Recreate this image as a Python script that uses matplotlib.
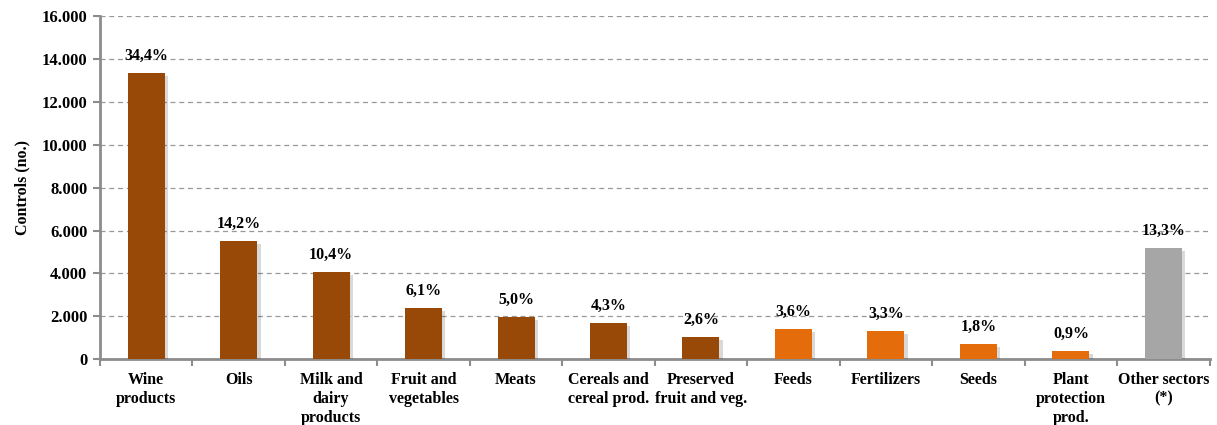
import numpy as np
import matplotlib
matplotlib.use('Agg')
import matplotlib.pyplot as plt
import matplotlib.patheffects as pe
from matplotlib.ticker import FuncFormatter

categories = ['Wine\nproducts', 'Oils', 'Milk and\ndairy\nproducts', 'Fruit and\nvegetables',
              'Meats', 'Cereals and\ncereal prod.', 'Preserved\nfruit and veg.', 'Feeds',
              'Fertilizers', 'Seeds', 'Plant\nprotection\nprod.', 'Other sectors\n(*)']
controls = [13340, 5500, 4050, 2370, 1950, 1670, 1010, 1400, 1300, 700, 360, 5170]
shares = ['34,4%', '14,2%', '10,4%', '6,1%', '5,0%', '4,3%', '2,6%', '3,6%', '3,3%', '1,8%', '0,9%', '13,3%']
groups = ['food'] * 7 + ['input'] * 4 + ['other']

colors = {'food': '#984807', 'input': '#E46C0A', 'other': '#A6A6A6'}
axis_grey = '#8C8C8C'

plt.rcParams['font.family'] = ['Liberation Serif', 'DejaVu Serif']

fig = plt.figure(figsize=(12.17, 4.25), dpi=100)
ax = fig.add_axes([0.082, 0.155, 0.912, 0.807])

x = np.arange(len(categories))
bars = ax.bar(x, controls, width=0.4, color=[colors[g] for g in groups], zorder=3)
for b in bars:
    b.set_path_effects([pe.SimplePatchShadow(offset=(2.5, -2), shadow_rgbFace='#000000', alpha=0.15),
                        pe.Normal()])

for xi, v, s in zip(x, controls, shares):
    ax.text(xi, v + 450, s, ha='center', va='bottom', fontsize=11.5, fontweight='bold', zorder=4)

ax.set_xlim(-0.5, len(categories) - 0.5)
ax.set_ylim(0, 16000)
ax.set_yticks(np.arange(0, 16001, 2000))
ax.yaxis.set_major_formatter(FuncFormatter(lambda v, p: f'{int(v):,}'.replace(',', '.')))
ax.yaxis.grid(True, linestyle=(0, (4, 3)), color='#999999', linewidth=0.9, zorder=0)
ax.set_axisbelow(True)

ax.set_xticks(x)
ax.set_xticklabels(categories, fontsize=11.5, fontweight='bold', linespacing=1.25)
ax.set_xticks(np.arange(-0.5, len(categories)), minor=True)
ax.tick_params(axis='x', which='major', length=0, pad=9)
ax.tick_params(axis='x', which='minor', length=5, width=1.5, color=axis_grey, direction='out')
ax.tick_params(axis='y', length=5, width=1.5, color=axis_grey, labelsize=12, pad=4)
for lab in ax.get_yticklabels():
    lab.set_fontweight('bold')

ax.set_ylabel('Controls (no.)', fontsize=11.5, fontweight='bold', labelpad=8)

for side in ['top', 'right']:
    ax.spines[side].set_visible(False)
for side in ['left', 'bottom']:
    ax.spines[side].set_color(axis_grey)
    ax.spines[side].set_linewidth(2)

fig.savefig('out.png', dpi=100)
